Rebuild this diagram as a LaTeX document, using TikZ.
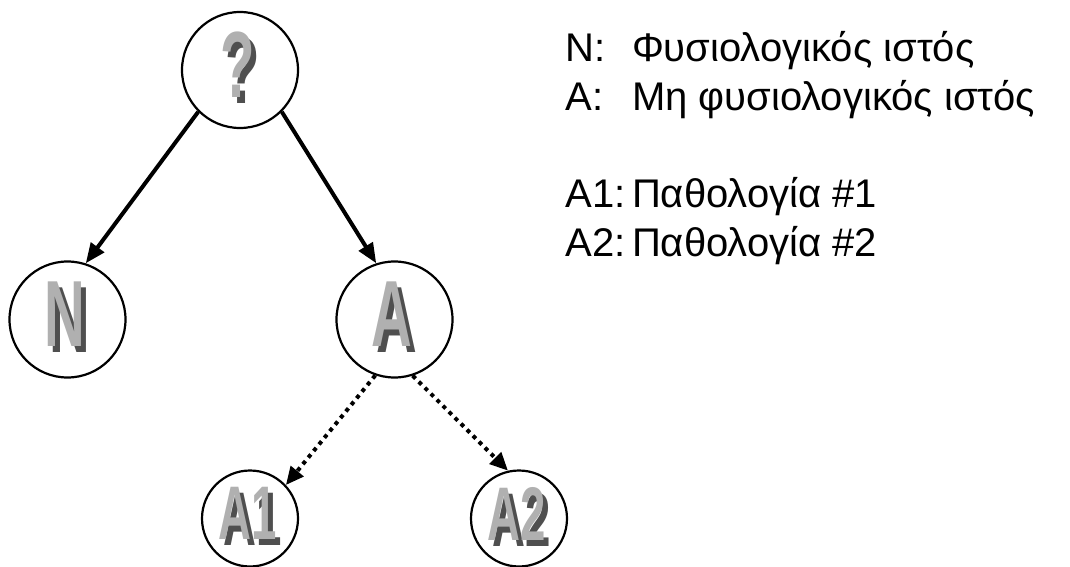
\documentclass[tikz,border=0pt]{standalone}
\usepackage{fontspec}
\setmainfont{Liberation Sans}
\newfontfamily\artfont[FakeStretch=0.6]{Liberation Sans}
\usetikzlibrary{arrows.meta}

\definecolor{shadowgray}{HTML}{4F4F4F}
\definecolor{facegray}{HTML}{B0B0B0}

\tikzset{
    disc/.style={circle, draw, line width=1.1pt, inner sep=0pt},
    bigdisc/.style={disc, minimum size=58pt},
    smalldisc/.style={disc, minimum size=48pt},
    bigart/.style={inner sep=0pt, font=\artfont\bfseries\fontsize{47}{47}\selectfont},
    smallart/.style={inner sep=0pt, font=\artfont\bfseries\fontsize{38}{38}\selectfont},
    solidlink/.style={line width=2pt, -{Triangle[length=10pt,width=8pt]}},
    dottedlink/.style={line width=2pt, dash pattern=on 2pt off 2.25pt, -{Triangle[length=9pt,width=8pt]}}
}

\begin{document}
\begin{tikzpicture}
    \useasboundingbox (0,0) rectangle (535pt,-283.5pt);

    \node[bigdisc] (q) at (120pt,-35pt) {}[level distance=124.75pt, sibling distance=163.5pt, edge from parent/.style={draw=none}]
    child[xshift=-4.5pt] { node[bigdisc] (N) {} }
    child[xshift=-4.5pt] {
        node[bigdisc] (A) {}[level distance=99.5pt, sibling distance=134.5pt]
        child[xshift=-5pt] { node[smalldisc] (A1) {} }
        child[xshift=-5pt] { node[smalldisc] (A2) {} }
    };

    \draw[solidlink] (q.225) -- (N.72);
    \draw[solidlink] (q.315) -- (A.108);
    \draw[dottedlink] (A.251) -- (A1.43);
    \draw[dottedlink] (A.288) -- (A2.103);

    \foreach \n/\t/\s in {q/?/bigart, N/N/bigart, A/A/bigart, A1/A1/smallart, A2/A2/smallart} {
        \node[\s, text=shadowgray] at ([shift={(1.25pt,-0.5pt)}]\n) {\t};
        \node[\s, text=facegray] at ([shift={(-1.25pt,2.5pt)}]\n) {\t};
    }

    \node[anchor=base west, inner sep=0pt, font=\fontsize{20}{24.3}\selectfont] (key) at (282.5pt,-31pt) {%
        \begin{tabular}[t]{@{}l@{\hspace{3.3pt}}l@{}}
            N: & Φυσιολογικός ιστός\\
            A: & Μη φυσιολογικός ιστός\\
            & \\
            A1: & Παθολογία \#1\\
            A2: & Παθολογία \#2
        \end{tabular}};
\end{tikzpicture}
\end{document}
